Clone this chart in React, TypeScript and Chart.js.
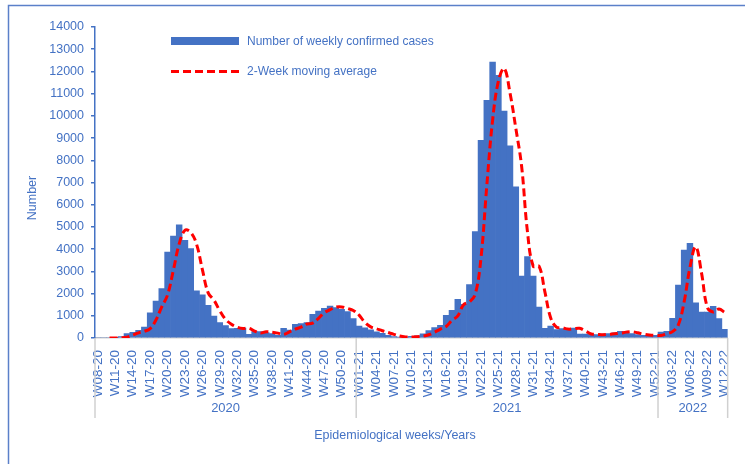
import React, { useEffect, useRef } from "react";
import { Chart, registerables } from "chart.js";

Chart.register(...registerables);

const weeks: string[] = [
  "W08-20","W09-20","W10-20","W11-20","W12-20","W13-20","W14-20","W15-20","W16-20","W17-20",
  "W18-20","W19-20","W20-20","W21-20","W22-20","W23-20","W24-20","W25-20","W26-20","W27-20",
  "W28-20","W29-20","W30-20","W31-20","W32-20","W33-20","W34-20","W35-20","W36-20","W37-20",
  "W38-20","W39-20","W40-20","W41-20","W42-20","W43-20","W44-20","W45-20","W46-20","W47-20",
  "W48-20","W49-20","W50-20","W51-20","W52-20",
  "W01-21","W02-21","W03-21","W04-21","W05-21","W06-21","W07-21","W08-21","W09-21","W10-21",
  "W11-21","W12-21","W13-21","W14-21","W15-21","W16-21","W17-21","W18-21","W19-21","W20-21",
  "W21-21","W22-21","W23-21","W24-21","W25-21","W26-21","W27-21","W28-21","W29-21","W30-21",
  "W31-21","W32-21","W33-21","W34-21","W35-21","W36-21","W37-21","W38-21","W39-21","W40-21",
  "W41-21","W42-21","W43-21","W44-21","W45-21","W46-21","W47-21","W48-21","W49-21","W50-21",
  "W51-21","W52-21",
  "W01-22","W02-22","W03-22","W04-22","W05-22","W06-22","W07-22","W08-22","W09-22","W10-22",
  "W11-22","W12-22",
];

const weeklyCases: number[] = [
  0, 0, 0, 10, 60, 195, 260, 345, 495, 1130,
  1660, 2220, 3870, 4590, 5100, 4400, 4030, 2120, 1940, 1470,
  990, 690, 560, 420, 440, 450, 165, 285, 285, 240,
  200, 120, 435, 360, 615, 645, 690, 1065, 1215, 1335,
  1440, 1365, 1290, 1185, 870,
  540, 460, 370, 280, 210, 120, 60, 40, 50, 70,
  100, 190, 330, 465, 570, 1020, 1250, 1740, 1520, 2400,
  4790, 8900, 10700, 12420, 11830, 10220, 8650, 6810, 2790, 3670,
  2790, 1390, 440, 540, 380, 420, 420, 450, 180, 180,
  150, 150, 180, 200, 230, 300, 270, 200, 150, 120,
  110, 120,
  270, 300, 880, 2380, 3960, 4260, 1580, 1170, 1170, 1430,
  870, 390,
];

const movingAverage: (number | null)[] = [
  null, null, 0, 0, 5, 35, 130, 230, 300, 420,
  810, 1400, 1940, 3050, 4230, 4850, 4750, 4220, 3080, 2030,
  1700, 1230, 840, 620, 490, 430, 445, 310, 225, 285,
  260, 220, 160, 280, 400, 490, 630, 670, 880, 1140,
  1275, 1390, 1400, 1330, 1240,
  1030, 700, 500, 415, 325, 245, 165, 90, 50, 45,
  60, 85, 145, 260, 400, 520, 795, 1000, 1495, 1630,
  1960, 3600, 6850, 9800, 11560, 12130, 11030, 9440, 7730, 4800,
  3230, 3230, 2090, 915, 490, 460, 400, 420, 435, 315,
  180, 165, 150, 165, 190, 215, 265, 285, 235, 175,
  135, 115,
  115, 195, 285, 590, 1630, 3170, 4110, 2920, 1375, 1170,
  1300, 1150,
];

const yearGroups = [
  { label: "2020", from: 0, to: 44 },
  { label: "2021", from: 45, to: 96 },
  { label: "2022", from: 97, to: 108 },
];

const seriesNames = ["Number of weekly confirmed cases", "2-Week moving average"];
const yTitle = "Number";
const xTitle = "Epidemiological weeks/Years";

const BLUE = "#4472C4";
const FONT = "'Liberation Sans', Arial, sans-serif";

const overlayPlugin = {
  id: "overlay",
  afterDraw(chart: any) {
    const ctx: CanvasRenderingContext2D = chart.ctx;
    const xs = chart.scales.x;
    const area = chart.chartArea;
    ctx.save();

    // outer frame (left and top edges)
    ctx.strokeStyle = "#5b80c9";
    ctx.lineWidth = 1.5;
    ctx.beginPath();
    ctx.moveTo(8.5, 464);
    ctx.lineTo(8.5, 5.5);
    ctx.lineTo(745, 5.5);
    ctx.stroke();

    // year group separators and labels
    const half = (xs.getPixelForValue(1) - xs.getPixelForValue(0)) / 2;
    ctx.strokeStyle = "#d0d0d0";
    ctx.lineWidth = 1.5;
    const bounds: number[] = [];
    yearGroups.forEach((g, k) => {
      if (k === 0) bounds.push(xs.getPixelForValue(g.from) - half);
      bounds.push(xs.getPixelForValue(g.to) + half);
    });
    bounds.forEach((bx) => {
      ctx.beginPath();
      ctx.moveTo(bx, area.bottom);
      ctx.lineTo(bx, area.bottom + 80);
      ctx.stroke();
    });
    ctx.fillStyle = BLUE;
    ctx.font = `13px ${FONT}`;
    ctx.textAlign = "center";
    ctx.textBaseline = "middle";
    yearGroups.forEach((g) => {
      const cx = (xs.getPixelForValue(g.from) + xs.getPixelForValue(g.to)) / 2;
      ctx.fillText(g.label, cx, 408);
    });

    // axis titles
    ctx.font = `12.5px ${FONT}`;
    ctx.fillText(xTitle, 395, 436);
    ctx.save();
    ctx.translate(33, 198);
    ctx.rotate(-Math.PI / 2);
    ctx.fillText(yTitle, 0, 0);
    ctx.restore();

    // legend
    ctx.fillStyle = BLUE;
    ctx.fillRect(171, 37, 68, 8);
    ctx.strokeStyle = "#FF0000";
    ctx.lineWidth = 3;
    ctx.setLineDash([8, 4]);
    ctx.beginPath();
    ctx.moveTo(171, 71.5);
    ctx.lineTo(240, 71.5);
    ctx.stroke();
    ctx.setLineDash([]);
    ctx.fillStyle = BLUE;
    ctx.font = `12px ${FONT}`;
    ctx.textAlign = "left";
    ctx.fillText(seriesNames[0], 247, 41.5);
    ctx.fillText(seriesNames[1], 247, 72);

    ctx.restore();
  },
};

export default function App() {
  const ref = useRef<HTMLCanvasElement | null>(null);

  useEffect(() => {
    if (!ref.current) return;
    const chart = new Chart(ref.current, {
      type: "bar",
      data: {
        labels: weeks,
        datasets: [
          {
            type: "line",
            label: seriesNames[1],
            data: movingAverage,
            borderColor: "#FF0000",
            borderWidth: 3,
            borderDash: [8, 4],
            pointRadius: 0,
            tension: 0.4,
            fill: false,
            order: 0,
          } as any,
          {
            type: "bar",
            label: seriesNames[0],
            data: weeklyCases,
            backgroundColor: BLUE,
            borderWidth: 0,
            barPercentage: 1,
            categoryPercentage: 1,
            order: 1,
          },
        ],
      },
      options: {
        animation: false,
        responsive: false,
        maintainAspectRatio: false,
        layout: { padding: { left: 0, right: 8, top: 27, bottom: 66 } },
        plugins: {
          legend: { display: false },
          tooltip: { enabled: false },
        },
        scales: {
          x: {
            grid: { display: false },
            border: { display: true, color: "#d0d0d0", width: 1.5 },
            ticks: {
              autoSkip: false,
              maxRotation: 90,
              minRotation: 90,
              padding: 4,
              color: BLUE,
              font: { family: FONT, size: 13.5 },
              callback: (_v: any, i: number) => (i % 3 === 0 ? weeks[i] : ""),
            },
            afterFit: (s: any) => {
              s.height = 60;
            },
          },
          y: {
            min: 0,
            max: 14000,
            ticks: {
              stepSize: 1000,
              padding: 7,
              color: BLUE,
              font: { family: FONT, size: 12.5 },
              callback: (v: any) => String(v),
            },
            grid: {
              display: true,
              drawOnChartArea: false,
              drawTicks: true,
              tickLength: 4,
              color: BLUE,
              lineWidth: 1.5,
            },
            border: { display: true, color: BLUE, width: 1.5 },
            afterFit: (s: any) => {
              s.width = 95;
            },
          },
        },
      },
      plugins: [overlayPlugin],
    });
    return () => chart.destroy();
  }, []);

  return (
    <div style={{ position: "fixed", left: 0, top: 0, width: 745, height: 464, background: "#fff" }}>
      <canvas ref={ref} width={745} height={464} style={{ width: 745, height: 464, display: "block" }} />
    </div>
  );
}
